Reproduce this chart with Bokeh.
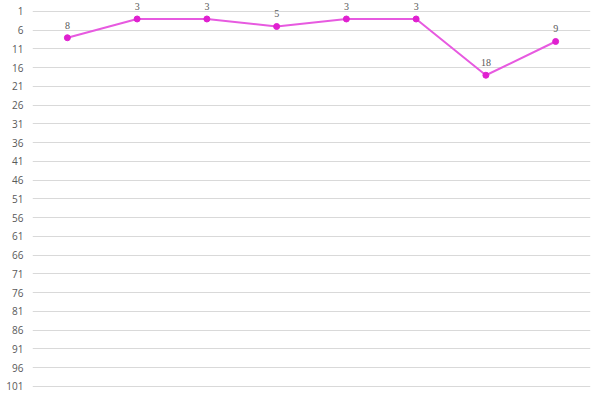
from bokeh.plotting import figure
from bokeh.models import Range1d, FixedTicker, ColumnDataSource, LabelSet
from bokeh.core.properties import value
from bokeh.embed import file_html
from bokeh.resources import INLINE

categories = [1, 2, 3, 4, 5, 6, 7, 8]
ranks = [8, 3, 3, 5, 3, 3, 18, 9]
rank_labels = [str(r) for r in ranks]
y_ticks = list(range(1, 102, 5))

src = ColumnDataSource(dict(x=categories, y=ranks, t=rank_labels))

p = figure(width=592, height=392, output_backend="svg", toolbar_location=None,
           x_range=Range1d(0.5, 8.5), y_range=Range1d(102.6, -1.93),
           min_border_left=32, min_border_right=2, min_border_top=0, min_border_bottom=0)
p.outline_line_color = None
p.xaxis.visible = False
p.xgrid.visible = False
p.ygrid.ticker = FixedTicker(ticks=y_ticks)
p.ygrid.grid_line_color = "#d9d9d9"
p.ygrid.grid_line_width = 1
ax = p.yaxis[0]
ax.ticker = FixedTicker(ticks=y_ticks)
ax.axis_line_color = None
ax.major_tick_line_color = None
ax.minor_tick_line_color = None
ax.major_tick_in = 0
ax.major_tick_out = 0
ax.major_label_standoff = 9
ax.major_label_text_font = "Open Sans"
ax.major_label_text_font_size = "10px"
ax.major_label_text_color = "#595959"

p.line("x", "y", source=src, line_color="#e75ae0", line_width=2)
p.scatter("x", "y", source=src, size=6, fill_color="#e020d0", line_color="#e020d0")
labels = LabelSet(x="x", y="y", text="t", source=src, y_offset=9,
                  text_align="center", text_baseline="alphabetic",
                  text_font="Open Sans", text_font_size="10px", text_color="#595959")
p.add_layout(labels)

open("out.html", "w").write(file_html(p, INLINE))
